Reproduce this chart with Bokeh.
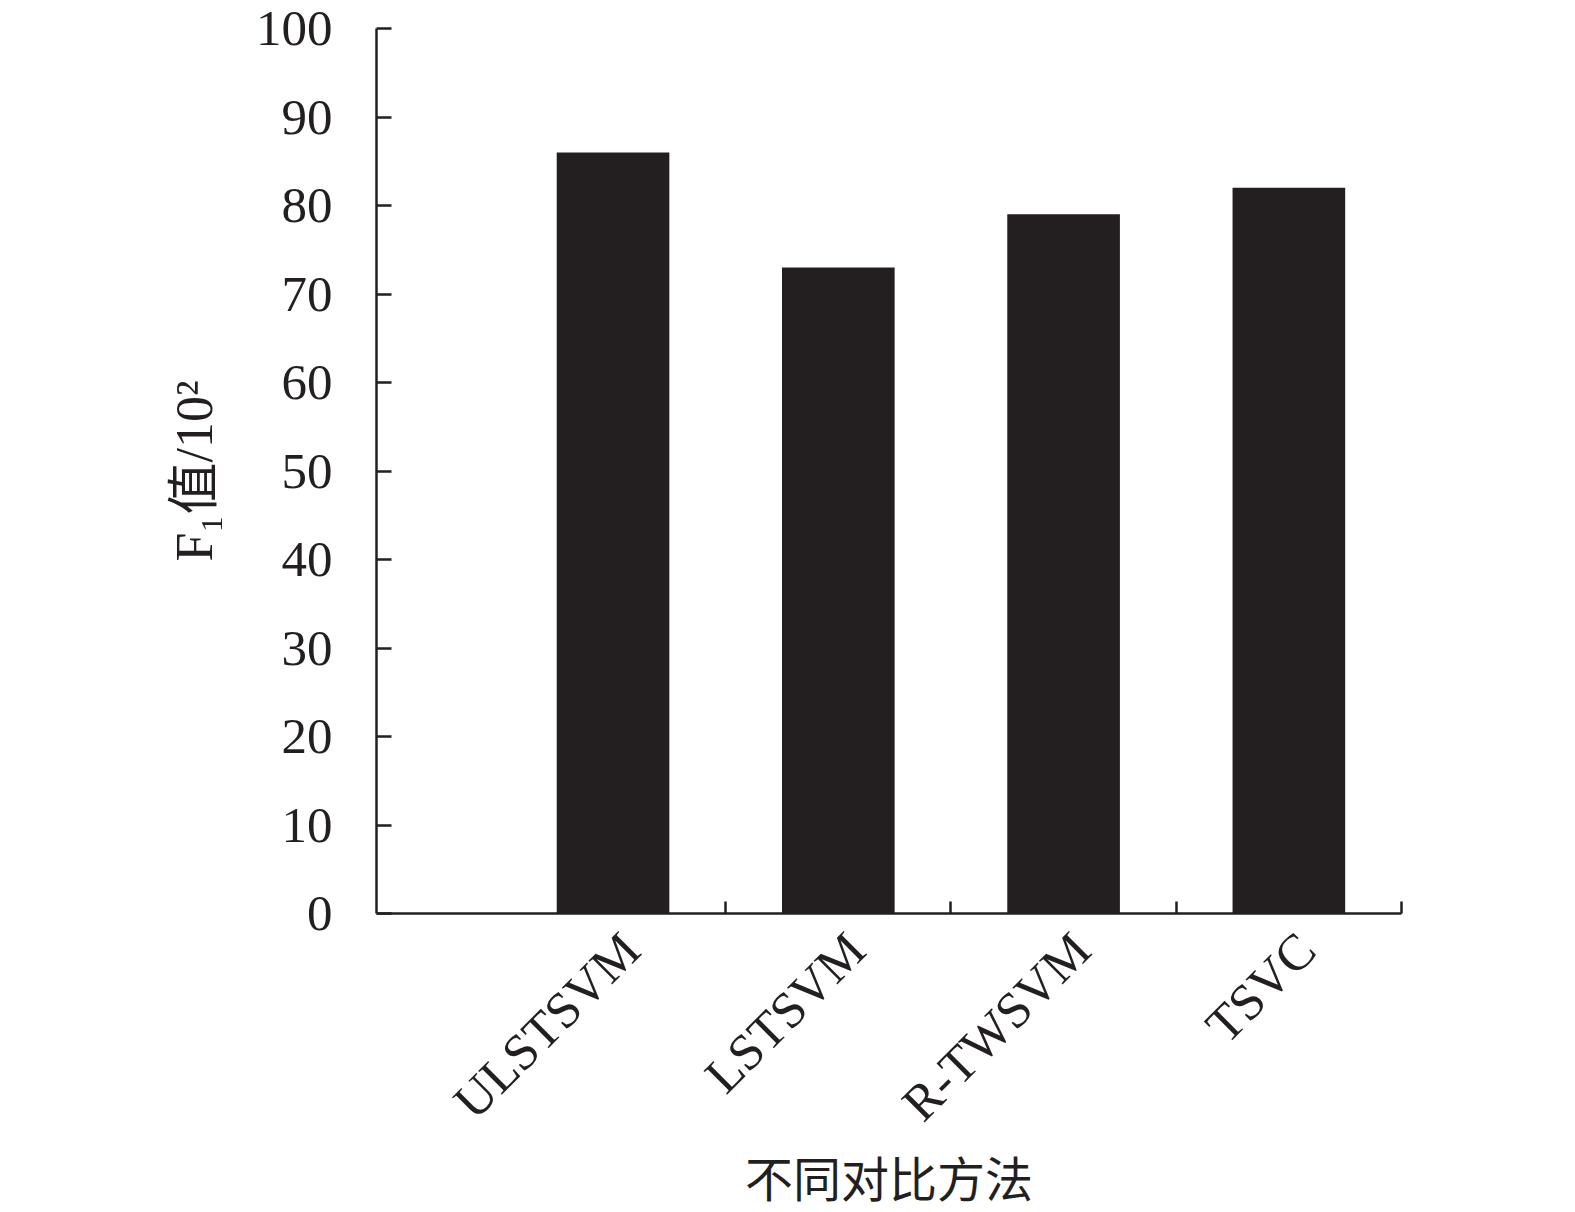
from bokeh.plotting import figure
from bokeh.models import Range1d, FixedTicker
from bokeh.embed import file_html
from bokeh.resources import INLINE

methods = ["ULSTSVM", "LSTSVM", "R-TWSVM", "TSVC"]
f1_values = [86, 73, 79, 82]
positions = [1, 2, 3, 4]
boundaries = [1.5, 2.5, 3.5, 4.5]
y_ticks = [0, 10, 20, 30, 40, 50, 60, 70, 80, 90, 100]

INK = "#231f20"
SERIF = "'Liberation Serif', 'Noto Sans CJK SC', serif"
LABEL_SHIFT = 0.08  # small rightward nudge of the slanted category labels

p = figure(frame_width=1025, frame_height=885, output_backend="svg", toolbar_location=None,
           x_range=Range1d(-0.05, 4.5), y_range=Range1d(0, 100),
           min_border_left=376, min_border_right=150, min_border_top=28, min_border_bottom=270)
p.outline_line_color = None
p.xgrid.visible = False
p.ygrid.visible = False
p.background_fill_color = "white"
p.border_fill_color = "white"

p.vbar(x=positions, top=f1_values, width=0.5, fill_color=INK, line_color=None)

# x axis
label_pos = [round(x + LABEL_SHIFT, 4) for x in positions]
p.xaxis.ticker = FixedTicker(ticks=label_pos, minor_ticks=boundaries)
p.xaxis.major_label_overrides = {lp: m for lp, m in zip(label_pos, methods)}
p.xaxis.major_label_orientation = 0.785398
p.xaxis.major_tick_in = 0
p.xaxis.major_tick_out = 0
p.xaxis.minor_tick_in = 12
p.xaxis.minor_tick_out = 0
p.xaxis.minor_tick_line_width = 2.5
p.xaxis.minor_tick_line_color = INK
p.xaxis.axis_line_width = 2.5
p.xaxis.axis_line_color = INK
p.xaxis.major_label_text_font = SERIF
p.xaxis.major_label_text_font_size = "51px"
p.xaxis.major_label_text_color = INK
p.xaxis.major_label_standoff = 28
p.xaxis.axis_label = "不同对比方法"
p.xaxis.axis_label_text_font = SERIF
p.xaxis.axis_label_text_font_size = "48px"
p.xaxis.axis_label_text_font_style = "normal"
p.xaxis.axis_label_text_color = INK
p.xaxis.axis_label_standoff = 0

# y axis
p.yaxis.ticker = FixedTicker(ticks=y_ticks, minor_ticks=[])
p.yaxis.major_tick_in = 15
p.yaxis.major_tick_out = 0
p.yaxis.major_tick_line_width = 2.5
p.yaxis.major_tick_line_color = INK
p.yaxis.minor_tick_line_color = None
p.yaxis.axis_line_width = 2.5
p.yaxis.axis_line_color = INK
p.yaxis.major_label_text_font = SERIF
p.yaxis.major_label_text_font_size = "51px"
p.yaxis.major_label_text_color = INK
p.yaxis.major_label_standoff = 44
p.yaxis.axis_label = "F₁值/10²"
p.yaxis.axis_label_text_font = SERIF
p.yaxis.axis_label_text_font_size = "52px"
p.yaxis.axis_label_text_font_style = "normal"
p.yaxis.axis_label_text_color = INK
p.yaxis.axis_label_standoff = 30

open("out.html", "w").write(file_html(p, INLINE))
